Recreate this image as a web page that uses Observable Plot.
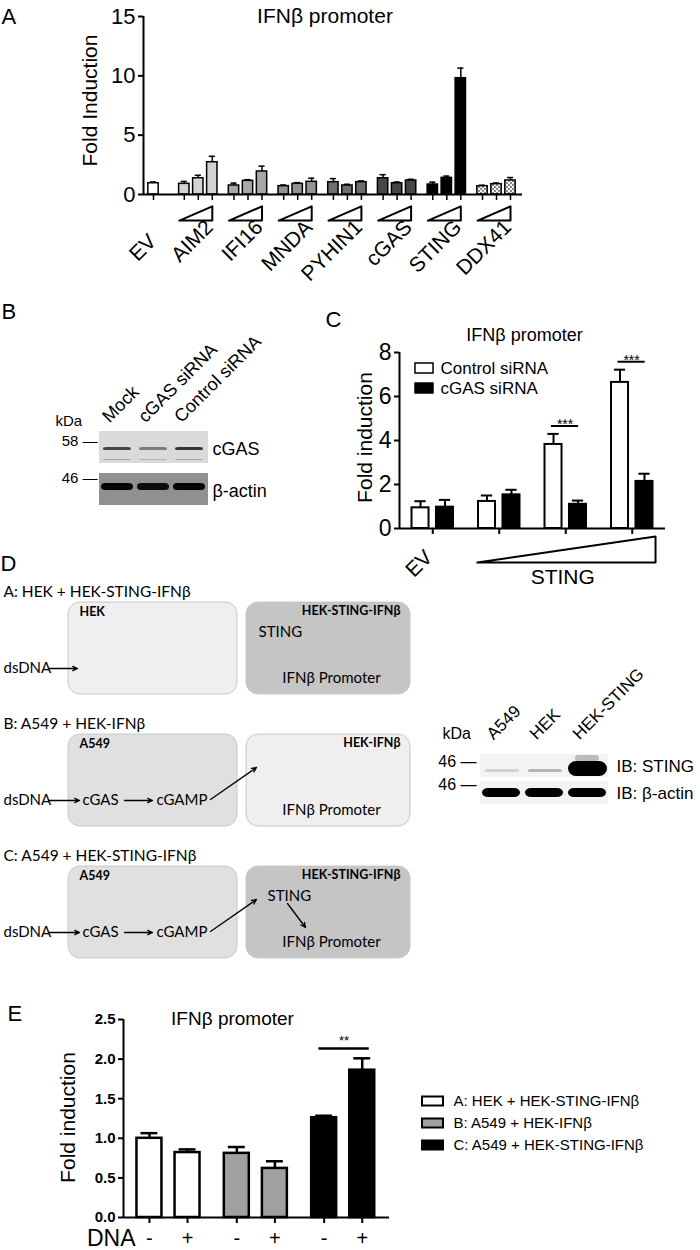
<!DOCTYPE html>
<html><head><meta charset="utf-8">
<script src="https://cdn.jsdelivr.net/npm/d3@7"></script>
<script src="https://cdn.jsdelivr.net/npm/@observablehq/plot@0.6"></script>
<style>
html,body{margin:0;padding:0;background:#fff;}
#fig{position:relative;width:700px;height:1250px;overflow:hidden;background:#fff;}
</style></head><body><div id="fig"></div>
<script>
// ================= DATA =================
// Panel A
const aGroups = ["EV","AIM2","IFI16","MNDA","PYHIN1","cGAS","STING","DDX41"];
const aMeans = [[0.95],[0.9,1.37,2.72],[0.76,1.15,1.94],[0.7,0.9,1.07],[1.04,0.76,1.04],[1.37,0.95,1.18],[0.84,1.4,9.8],[0.7,0.87,1.18]];
const aSEM   = [[0.1],[0.2,0.25,0.5],[0.2,0.1,0.45],[0.1,0.1,0.3],[0.3,0.1,0.1],[0.3,0.1,0.1],[0.2,0.15,0.85],[0.08,0.1,0.25]];
const aYTicks = [0,5,10,15];
const aTitle = "IFNβ promoter";
const aYLabel = "Fold Induction";
// Panel B
const bLanes = ["Mock","cGAS siRNA","Control siRNA"];
const bBlots = ["cGAS","β-actin"];
const bMarkers = ["58","46"];
const bCgasIntensity = [0.78,0.5,0.88];
const bCgasLowerIntensity = [0.3,0.25,0.3];
const bActinIntensity = [1,0.95,1];
// Panel C
const cGroups = ["EV","STING 1","STING 2","STING 3"];
const cSeries = ["Control siRNA","cGAS siRNA"];
const cControlMean = [0.94,1.23,3.82,6.64];
const cControlSEM  = [0.3,0.27,0.48,0.58];
const cCgasMean    = [0.97,1.53,1.1,2.14];
const cCgasSEM     = [0.33,0.23,0.17,0.35];
const cSigGroups = [2,3];
const cSigLabel = "***";
const cYTicks = [0,2,4,6,8];
const cTitle = "IFNβ promoter";
const cYLabel = "Fold induction";
const cDoseLabel = "STING";
// Panel D (diagram)
const dRowTitles = ["A: HEK + HEK-STING-IFNβ","B: A549 + HEK-IFNβ","C: A549 + HEK-STING-IFNβ"];
const dSenderCells = ["HEK","A549","A549"];
const dReporterCells = ["HEK-STING-IFNβ","HEK-IFNβ","HEK-STING-IFNβ"];
const dReporterHasSting = [true,false,true];
const dPathways = [["dsDNA"],["dsDNA","cGAS","cGAMP"],["dsDNA","cGAS","cGAMP"]];
const dPromoter = "IFNβ Promoter";
const dSting = "STING";
// Panel D (blot)
const dLanes = ["A549","HEK","HEK-STING"];
const dBlots = ["IB: STING","IB: β-actin"];
const dMarkers = ["46","46"];
const dStingIntensity = [0.14,0.28,1];
const dActinIntensity = [1,1,1];
// Panel E
const eConditions = ["A: HEK + HEK-STING-IFNβ","B: A549 + HEK-IFNβ","C: A549 + HEK-STING-IFNβ"];
const eDNA = ["-","+"];
const eMeans = [[1.0,0.82],[0.81,0.62],[1.26,1.86]];
const eSEM   = [[0.065,0.04],[0.08,0.09],[0.025,0.15]];
const eYTicks = [0,0.5,1,1.5,2,2.5];
const eSigCondition = 2;
const eSigLabel = "**";
const eTitle = "IFNβ promoter";
const eYLabel = "Fold induction";
const eRowLabel = "DNA";

// ================= HELPERS =================
const fig = document.getElementById("fig");
function place(node, left, top){ node.style.position="absolute"; node.style.left=left+"px"; node.style.top=top+"px"; fig.appendChild(node); return node; }
const sans = "'Liberation Sans', Arial, Helvetica, sans-serif";
const base = {fontFamily: sans, color:"black", background:"transparent", overflow:"visible"};
function blurBands(svg, id, sd){
  d3.select(svg).insert("defs",":first-child").html(`<filter id="${id}" x="-30%" y="-80%" width="160%" height="260%"><feGaussianBlur stdDeviation="${sd}"/></filter>`);
  d3.select(svg).selectAll('g[aria-label="band"]').attr("filter",`url(#${id})`);
}

// ================= PANEL A =================
const aPos = (g,d) => g===0 ? 0 : 2.2 + (g-1)*3.55 + d;
const aBars = aGroups.flatMap((grp,g)=>aMeans[g].map((v,d)=>({grp,g,d,v,e:aSEM[g][d],x:aPos(g,d)})));
const aXMin = -0.714, aXMax = 26.357;
const aTri = aGroups.slice(1).flatMap((grp,i)=>{const g=i+1, x0=aPos(g,0)-0.35, x1=aPos(g,2);
  return [{grp,x:x0,y:-2.2},{grp,x:x1,y:-1.0},{grp,x:x1,y:-2.2},{grp,x:x0,y:-2.2}];});
const aLabels = aGroups.slice(1).map((grp,i)=>({grp,x:aPos(i+1,1)}));
const aPalette = ["white","#d4d4d4","#a8a8a8","#939393","#6e6e6e","#474747","black","url(#ddxdots)"];
const plotA = Plot.plot({
  width:700, height:290, marginLeft:143, marginRight:178, marginTop:16, marginBottom:96,
  style: base,
  x:{domain:[aXMin,aXMax], axis:null},
  y:{domain:[0,15]},
  color:{type:"ordinal", domain:aGroups, range:aPalette},
  marks:[
    Plot.ruleX([aXMin],{y1:0,y2:15,strokeWidth:2}),
    Plot.ruleX(aBars,{x:"x",y1:0,y2:-0.5,strokeWidth:1.5}),
    Plot.ruleX(aBars,{x:"x",y1:"v",y2:d=>d.v+d.e,strokeWidth:1.5}),
    Plot.ruleY(aBars,{y:d=>d.v+d.e,x1:d=>d.x-0.22,x2:d=>d.x+0.22,strokeWidth:1.5}),
    Plot.rect(aBars,{x1:d=>d.x-0.37,x2:d=>d.x+0.37,y1:0,y2:"v",fill:"grp",stroke:"black",strokeWidth:1.5}),
    Plot.ruleY([0],{strokeWidth:2}),
    Plot.line(aTri,{x:"x",y:"y",z:"grp",strokeWidth:2}),
    Plot.axisY({ticks:aYTicks,tickSize:5,tickPadding:3,fontSize:22,strokeWidth:2,label:null}),
    Plot.text([aTitle],{text:d=>d,frameAnchor:"top",dx:-8,fontSize:21,lineAnchor:"middle"}),
    Plot.text([aYLabel],{text:d=>d,frameAnchor:"left",textAnchor:"middle",rotate:-90,dx:-53,dy:-5,fontSize:21,lineAnchor:"middle"}),
    Plot.text(aBars.filter(d=>d.g===0),{x:"x",text:"grp",frameAnchor:"bottom",rotate:-45,textAnchor:"end",lineAnchor:"bottom",dx:4,dy:48,fontSize:21}),
    Plot.text(aLabels,{x:"x",text:"grp",frameAnchor:"bottom",rotate:-45,textAnchor:"end",lineAnchor:"bottom",dx:16,dy:34,fontSize:21}),
    Plot.text(["A"],{text:d=>d,frameAnchor:"top-left",dx:-142,dy:0,fontSize:22,textAnchor:"start",lineAnchor:"middle"})
  ]
});
d3.select(plotA).insert("defs",":first-child").html(`<pattern id="ddxdots" width="4" height="4" patternUnits="userSpaceOnUse"><rect width="4" height="4" fill="#f4f4f4"/><circle cx="1" cy="1" r="0.9" fill="#555"/><circle cx="3" cy="3" r="0.9" fill="#555"/></pattern>`);
place(plotA,0,0);

// ================= PANEL B =================
const bBandData = bLanes.map((lane,i)=>({lane,cgas:bCgasIntensity[i],lower:bCgasLowerIntensity[i],actin:bActinIntensity[i]}));
const bStripFill = {"cGAS":"#dadada","β-actin":"#909090"};
const plotB = Plot.plot({
  width:330, height:240, marginLeft:99, marginRight:122, marginTop:147, marginBottom:11,
  style: base,
  x:{type:"band",domain:bLanes,paddingInner:0.05,paddingOuter:0.02,axis:null},
  y:{type:"band",domain:bBlots,paddingInner:0.25,axis:null},
  color:{type:"identity"}, opacity:{type:"identity"},
  marks:[
    Plot.cell(bBlots,{y:d=>d,fill:d=>bStripFill[d]}),
    Plot.cell(bBandData,{x:"lane",y:()=>bBlots[0],fill:"#1c1c1c",fillOpacity:"cgas",insetTop:16,insetBottom:13,insetLeft:3,insetRight:3,rx:3,ariaLabel:"band"}),
    Plot.cell(bBandData,{x:"lane",y:()=>bBlots[0],fill:"#333",fillOpacity:"lower",insetTop:28,insetBottom:3,insetLeft:3,insetRight:3,rx:2,ariaLabel:"band"}),
    Plot.cell(bBandData,{x:"lane",y:()=>bBlots[1],fill:"#050505",fillOpacity:"actin",insetTop:10,insetBottom:15,insetLeft:1,insetRight:1,rx:4,ariaLabel:"band"}),
    Plot.text(bLanes,{x:d=>d,text:d=>d,frameAnchor:"top",rotate:-45,textAnchor:"start",lineAnchor:"bottom",dx:-8,dy:-4,fontSize:18}),
    Plot.text(bBlots,{y:d=>d,text:d=>d,frameAnchor:"right",textAnchor:"start",dx:4,dy:2,fontSize:18}),
    Plot.text([bMarkers[0]],{y:()=>bBlots[0],text:d=>d+" —",frameAnchor:"left",textAnchor:"end",dx:-2,dy:-6,fontSize:15}),
    Plot.text([bMarkers[1]],{y:()=>bBlots[1],text:d=>d+" —",frameAnchor:"left",textAnchor:"end",dx:-2,dy:-11,fontSize:15}),
    Plot.text(["kDa"],{text:d=>d,frameAnchor:"top-left",dx:-44,dy:-6,fontSize:15,textAnchor:"start",lineAnchor:"middle"}),
    Plot.text(["B"],{text:d=>d,frameAnchor:"top-left",dx:-98,dy:-116,fontSize:22,textAnchor:"start",lineAnchor:"middle"})
  ]
});
blurBands(plotB,"blurB",0.9);
place(plotB,0,280);

// ================= PANEL C =================
const cBars = cGroups.flatMap((grp,g)=>cSeries.map((s,k)=>({grp,g,s,k,
  v:k===0?cControlMean[g]:cCgasMean[g], e:k===0?cControlSEM[g]:cCgasSEM[g], x:g+(k===0?-0.184:0.184)})));
const cSig = cSigGroups.map(g=>{const pair=cBars.filter(d=>d.g===g); return {g,x1:pair[0].x-0.03,x2:pair[1].x+0.01,y:d3.max(pair,d=>d.v+d.e)+0.36,label:cSigLabel};});
const cTri = [{x:1-0.33,y:-1.545},{x:3+0.35,y:-0.364},{x:3+0.35,y:-1.545},{x:1-0.33,y:-1.545}];
const plotC = Plot.plot({
  width:380, height:310, marginLeft:79, marginRight:35, marginTop:72, marginBottom:62,
  style: base,
  x:{domain:[-0.5,3.5],axis:null},
  y:{domain:[0,8]},
  color:{type:"ordinal",domain:cSeries,range:["white","black"]},
  marks:[
    Plot.ruleX([-0.5],{y1:0,y2:8,strokeWidth:2}),
    Plot.ruleX(cGroups.map((g,i)=>i),{x:d=>d,y1:0,y2:-0.27,strokeWidth:2}),
    Plot.ruleX(cBars,{x:"x",y1:"v",y2:d=>d.v+d.e,strokeWidth:2}),
    Plot.ruleY(cBars,{y:d=>d.v+d.e,x1:d=>d.x-0.085,x2:d=>d.x+0.085,strokeWidth:2}),
    Plot.rect(cBars,{x1:d=>d.x-0.128,x2:d=>d.x+0.128,y1:0,y2:"v",fill:"s",stroke:"black",strokeWidth:2}),
    Plot.ruleY([0],{strokeWidth:2}),
    Plot.ruleY(cSig,{y:"y",x1:"x1",x2:"x2",strokeWidth:2}),
    Plot.text(cSig,{x:d=>(d.x1+d.x2)/2,y:"y",text:"label",lineAnchor:"bottom",dy:3,fontSize:14}),
    Plot.line(cTri,{x:"x",y:"y",strokeWidth:2}),
    Plot.axisY({ticks:cYTicks,tickSize:5,tickPadding:3,fontSize:23,strokeWidth:2,label:null}),
    Plot.text([cTitle],{text:d=>d,frameAnchor:"top",dx:-8,dy:-17,fontSize:18,lineAnchor:"middle"}),
    Plot.text([cYLabel],{text:d=>d,frameAnchor:"left",textAnchor:"middle",rotate:-90,dx:-34,dy:-3,fontSize:21,lineAnchor:"middle"}),
    Plot.text([cGroups[0]],{x:()=>0,text:d=>d,frameAnchor:"bottom",rotate:-45,textAnchor:"end",lineAnchor:"bottom",dx:1,dy:30,fontSize:21}),
    Plot.text([cDoseLabel],{x:()=>2,text:d=>d,frameAnchor:"bottom",dy:49,dx:-3,fontSize:21,lineAnchor:"middle"}),
    Plot.text(["C"],{text:d=>d,frameAnchor:"top-left",dx:-74,dy:-33,fontSize:22,textAnchor:"start",lineAnchor:"middle"})
  ]
});
place(plotC,320,280);

const legendC = Plot.plot({
  width:200, height:44, marginLeft:1, marginRight:181, marginTop:0, marginBottom:0,
  style: base,
  x:{axis:null}, y:{type:"band",domain:cSeries,axis:null},
  color:{type:"ordinal",domain:cSeries,range:["white","black"]},
  marks:[
    Plot.cell(cSeries,{y:d=>d,fill:d=>d,stroke:"black",strokeWidth:1.5,insetTop:4,insetBottom:4}),
    Plot.text(cSeries,{y:d=>d,text:d=>d,frameAnchor:"right",textAnchor:"start",dx:7,fontSize:17})
  ]
});
place(legendC,414,356);

// ================= PANEL D: diagram =================
const dTop = r => 62 + r*132;
const dBoxes = dRowTitles.flatMap((t,r)=>{const y1=dTop(r); return [
  {x1:68,x2:237,y1,y2:y1+92,fill:dSenderCells[r]==="HEK"?"#efefef":"#e0e0e0"},
  {x1:246,x2:410,y1,y2:y1+92,fill:dReporterHasSting[r]?"#c5c5c5":"#efefef"}];});
const dTitleTxt = dRowTitles.map((t,r)=>({t,x:3,y:dTop(r)-10}));
const dSenderTxt = dSenderCells.map((t,r)=>({t,x:79,y:dTop(r)+9}));
const dReporterTxt = dReporterCells.map((t,r)=>({t,x:400,y:dTop(r)+8}));
const dStingTxt = dReporterHasSting.map((s,r)=>s?{t:dSting,x:246+(dPathways[r].length>1?21:12),y:dTop(r)+30}:null).filter(Boolean);
const dPromTxt = dRowTitles.map((t,r)=>({t:dPromoter,x:331,y:dTop(r)+76}));
const dNodeX = [3,82,156];
const dNodeTxt = dPathways.flatMap((p,r)=>p.map((t,i)=>({t,x:dNodeX[i],y:dTop(r)+66})));
const dArrows = dPathways.flatMap((p,r)=>{const y=dTop(r)+66; const a=[{x1:48,y1:y,x2:p.length>1?79:77,y2:y}];
  if(p.length>1){a.push({x1:124,y1:y,x2:152,y2:y}); a.push({x1:210,y1:y-1,x2:256,y2:dTop(r)+33});}
  if(p.length>1 && dReporterHasSting[r]) a.push({x1:287,y1:dTop(r)+37,x2:305,y2:dTop(r)+61});
  return a;});
const lato = "Lato, 'Open Sans', sans-serif";
const plotD = Plot.plot({
  width:420, height:430, marginLeft:0, marginRight:0, marginTop:0, marginBottom:0,
  style: base,
  x:{domain:[0,420],range:[0,420],axis:null},
  y:{domain:[0,430],range:[0,430],axis:null},
  color:{type:"identity"},
  marks:[
    Plot.rect(dBoxes,{x1:"x1",x2:"x2",y1:"y1",y2:"y2",fill:"fill",stroke:"#c8c8c8",strokeWidth:1,rx:12}),
    Plot.text(dTitleTxt,{x:"x",y:"y",text:"t",textAnchor:"start",fontFamily:lato,fontSize:15.5}),
    Plot.text(dSenderTxt,{x:"x",y:"y",text:"t",textAnchor:"start",fontFamily:lato,fontWeight:"bold",fontSize:12.5}),
    Plot.text(dReporterTxt,{x:"x",y:"y",text:"t",textAnchor:"end",fontFamily:lato,fontWeight:"bold",fontSize:12.5}),
    Plot.text(dStingTxt,{x:"x",y:"y",text:"t",textAnchor:"start",fontFamily:lato,fontSize:15}),
    Plot.text(dPromTxt,{x:"x",y:"y",text:"t",fontFamily:lato,fontSize:15}),
    Plot.text(dNodeTxt,{x:"x",y:"y",text:"t",textAnchor:"start",fontFamily:lato,fontSize:15}),
    Plot.arrow(dArrows,{x1:"x1",y1:"y1",x2:"x2",y2:"y2",headLength:6,headAngle:50,strokeWidth:1.3}),
    Plot.text(["D"],{text:d=>d,x:()=>0,y:()=>23,textAnchor:"start",fontFamily:sans,fontSize:22})
  ]
});
place(plotD,0,540);

// ================= PANEL D: blot =================
const dBandData = dLanes.map((lane,i)=>({lane,sting:dStingIntensity[i],actin:dActinIntensity[i]}));
const plotDB = Plot.plot({
  width:280, height:170, marginLeft:60, marginRight:92, marginTop:100, marginBottom:13,
  style: base,
  x:{type:"band",domain:dLanes,paddingInner:0.08,paddingOuter:0,axis:null},
  y:{type:"band",domain:dBlots,paddingInner:0.16,axis:null},
  color:{type:"identity"}, opacity:{type:"identity"},
  marks:[
    Plot.cell(dBlots,{y:d=>d,fill:"#f3f3f3"}),
    Plot.cell(dBandData.filter(d=>d.sting<0.5),{x:"lane",y:()=>dBlots[0],fill:"#111",fillOpacity:"sting",insetTop:15,insetBottom:5,insetLeft:4,insetRight:2,rx:3,ariaLabel:"band"}),
    Plot.cell(dBandData.filter(d=>d.sting>=0.5),{x:"lane",y:()=>dBlots[0],fill:"#777",fillOpacity:0.45,insetTop:1,insetBottom:16,insetLeft:8,insetRight:8,rx:3,ariaLabel:"band"}),
    Plot.cell(dBandData.filter(d=>d.sting>=0.5),{x:"lane",y:()=>dBlots[0],fill:"#000",fillOpacity:"sting",insetTop:7,insetBottom:1,insetLeft:1,insetRight:0,rx:8,ariaLabel:"band"}),
    Plot.cell(dBandData,{x:"lane",y:()=>dBlots[1],fill:"#000",fillOpacity:"actin",insetTop:7,insetBottom:7,insetLeft:1,insetRight:1,rx:6,ariaLabel:"band"}),
    Plot.text(dLanes,{x:d=>d,text:d=>d,frameAnchor:"top",rotate:-45,textAnchor:"start",lineAnchor:"bottom",dx:-8,dy:-10,fontSize:17}),
    Plot.text(dBlots,{y:d=>d,text:d=>d,frameAnchor:"right",textAnchor:"start",dx:8,dy:1,fontSize:17}),
    Plot.text([dMarkers[0]],{y:()=>dBlots[0],text:d=>d+" —",frameAnchor:"left",textAnchor:"end",dx:-4,dy:-4,fontSize:16}),
    Plot.text([dMarkers[1]],{y:()=>dBlots[1],text:d=>d+" —",frameAnchor:"left",textAnchor:"end",dx:-4,dy:-8,fontSize:16}),
    Plot.text(["kDa"],{text:d=>d,frameAnchor:"top-left",dx:-38,dy:-17,fontSize:16,textAnchor:"start",lineAnchor:"middle"})
  ]
});
blurBands(plotDB,"blurD",1.1);
place(plotDB,420,650);

// ================= PANEL E =================
const ePos = (c,k) => c + (k===0?-0.218:0.218);
const eBars = eConditions.flatMap((cond,c)=>eDNA.map((dna,k)=>({cond,c,k,dna,v:eMeans[c][k],e:eSEM[c][k],x:ePos(c,k)})));
const eXMin = -0.515, eXMax = 2.53;
const eSigPair = eBars.filter(d=>d.c===eSigCondition);
const eSig = [{x1:eSigPair[0].x-0.06,x2:eSigPair[1].x+0.08,y:d3.max(eSigPair,d=>d.v+d.e)+0.125,label:eSigLabel}];
const eFill = ["white","#a0a0a0","black"];
const plotE = Plot.plot({
  width:700, height:270, marginLeft:123, marginRight:311, marginTop:39, marginBottom:33,
  style: base,
  x:{domain:[eXMin,eXMax],axis:null},
  y:{domain:[0,2.5]},
  color:{type:"ordinal",domain:eConditions,range:eFill},
  marks:[
    Plot.ruleX([eXMin],{y1:0,y2:2.5,strokeWidth:2}),
    Plot.ruleX(eBars,{x:"x",y1:0,y2:-0.076,strokeWidth:2}),
    Plot.ruleX(eBars,{x:"x",y1:"v",y2:d=>d.v+d.e,strokeWidth:2.5}),
    Plot.ruleY(eBars,{y:d=>d.v+d.e,x1:d=>d.x-0.097,x2:d=>d.x+0.097,strokeWidth:2.5}),
    Plot.rect(eBars,{x1:d=>d.x-0.143,x2:d=>d.x+0.143,y1:0,y2:"v",fill:"cond",stroke:"black",strokeWidth:2.5}),
    Plot.ruleY([0],{strokeWidth:2}),
    Plot.ruleY(eSig,{y:"y",x1:"x1",x2:"x2",strokeWidth:2.5}),
    Plot.text(eSig,{x:d=>(d.x1+d.x2)/2,y:"y",text:"label",lineAnchor:"bottom",dy:-3,fontSize:13}),
    Plot.axisY({ticks:eYTicks,tickFormat:d3.format(".1f"),tickSize:5,tickPadding:3,fontSize:15,fontWeight:"bold",strokeWidth:2,label:null}),
    Plot.text(eBars,{x:"x",text:"dna",frameAnchor:"bottom",dy:21,fontSize:20,lineAnchor:"middle"}),
    Plot.text([eRowLabel],{text:d=>d,frameAnchor:"bottom-left",dx:12,dy:21,textAnchor:"end",fontSize:23,lineAnchor:"middle"}),
    Plot.text([eTitle],{text:d=>d,frameAnchor:"top",dx:-24,dy:-1,fontSize:19,lineAnchor:"middle"}),
    Plot.text([eYLabel],{text:d=>d,frameAnchor:"left",textAnchor:"middle",rotate:-90,dx:-55,dy:-1,fontSize:21,lineAnchor:"middle"}),
    Plot.text(["E"],{text:d=>d,frameAnchor:"top-left",dx:-116,dy:-6,fontSize:22,textAnchor:"start",lineAnchor:"middle"})
  ]
});
place(plotE,0,980);

const legendE = Plot.plot({
  width:280, height:69, marginLeft:2, marginRight:257, marginTop:0, marginBottom:0,
  style: base,
  x:{axis:null}, y:{type:"band",domain:eConditions,axis:null},
  color:{type:"ordinal",domain:eConditions,range:eFill},
  marks:[
    Plot.cell(eConditions,{y:d=>d,fill:d=>d,stroke:"black",strokeWidth:2,insetTop:5.5,insetBottom:5.5}),
    Plot.text(eConditions,{y:d=>d,text:d=>d,frameAnchor:"right",textAnchor:"start",dx:10,fontSize:15})
  ]
});
place(legendE,420,1088);
</script>
</body></html>
